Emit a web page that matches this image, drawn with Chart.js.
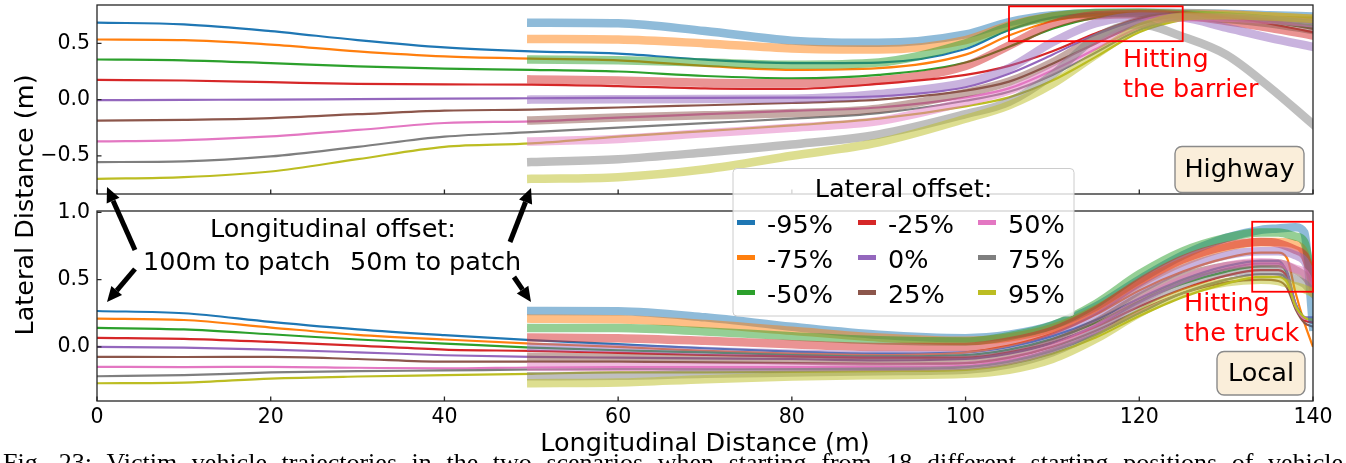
<!DOCTYPE html>
<html>
<head>
<meta charset="utf-8">
<script src="https://cdn.jsdelivr.net/npm/chart.js@4.4.1/dist/chart.umd.min.js"></script>
<style>
  html, body { margin: 0; padding: 0; background: #fff; }
  #wrap { position: relative; width: 1346px; height: 463px; overflow: hidden; }
  #wrap canvas { position: absolute; left: 0; top: 0; }
</style>
</head>
<body>
<div id="wrap">
  <canvas id="local" width="1346" height="463"></canvas>
  <canvas id="highway" width="1346" height="463"></canvas>
</div>
<script>
// lateral offsets of the starting position, tab10 colours
const offsets = ['-95%', '-75%', '-50%', '-25%', '0%', '25%', '50%', '75%', '95%'];
const colors = ['#1f77b4', '#ff7f0e', '#2ca02c', '#d62728', '#9467bd', '#8c564b', '#e377c2', '#7f7f7f', '#bcbd22'];
const xTicks = [0, 20, 40, 60, 80, 100, 120, 140];
const hwYTicks = [-0.5, 0, 0.5];
const locYTicks = [0, 0.5, 1.0];

// Highway, patch 100 m ahead (thin lines)
const hwFarX = [0, 10, 20, 30, 40, 50, 60, 70, 80, 90, 100, 105, 110, 115, 120, 125, 130, 140];
const hwFar = [
  [0.685, 0.67, 0.61, 0.53, 0.465, 0.43, 0.41, 0.355, 0.325, 0.33, 0.45, 0.62, 0.73, 0.765, 0.77, 0.77, 0.75, 0.71],
  [0.535, 0.53, 0.49, 0.43, 0.385, 0.365, 0.35, 0.30, 0.265, 0.28, 0.40, 0.57, 0.70, 0.755, 0.77, 0.765, 0.75, 0.70],
  [0.357, 0.35, 0.325, 0.295, 0.275, 0.265, 0.25, 0.21, 0.19, 0.22, 0.33, 0.47, 0.63, 0.73, 0.76, 0.76, 0.74, 0.66],
  [0.175, 0.17, 0.155, 0.14, 0.135, 0.133, 0.12, 0.10, 0.095, 0.14, 0.22, 0.30, 0.43, 0.59, 0.72, 0.76, 0.74, 0.60],
  [-0.005, -0.002, 0.0, 0.005, 0.009, 0.012, 0.015, 0.015, 0.017, 0.03, 0.11, 0.23, 0.40, 0.58, 0.71, 0.75, 0.74, 0.64],
  [-0.1875, -0.18, -0.164, -0.13, -0.098, -0.089, -0.07, -0.05, -0.03, 0.0, 0.08, 0.16, 0.32, 0.50, 0.67, 0.74, 0.74, 0.63],
  [-0.372, -0.36, -0.327, -0.27, -0.208, -0.194, -0.16, -0.13, -0.10, -0.07, 0.02, 0.10, 0.26, 0.45, 0.64, 0.73, 0.74, 0.69],
  [-0.556, -0.55, -0.506, -0.42, -0.33, -0.29, -0.25, -0.21, -0.17, -0.12, -0.01, 0.07, 0.22, 0.42, 0.62, 0.72, 0.74, 0.68],
  [-0.705, -0.69, -0.64, -0.53, -0.42, -0.39, -0.33, -0.28, -0.23, -0.17, -0.06, 0.02, 0.17, 0.38, 0.60, 0.71, 0.74, 0.73]
];

// Highway, patch 50 m ahead (wide translucent lines)
const hwNearX = [50, 60, 70, 80, 90, 100, 105, 110, 115, 120, 125, 130, 135, 140];
const hwNear = [
  [0.685, 0.68, 0.61, 0.525, 0.505, 0.58, 0.69, 0.75, 0.77, 0.775, 0.77, 0.765, 0.75, 0.74],
  [0.54, 0.535, 0.50, 0.455, 0.445, 0.53, 0.66, 0.74, 0.765, 0.77, 0.765, 0.76, 0.74, 0.72],
  [0.357, 0.35, 0.33, 0.31, 0.33, 0.50, 0.65, 0.74, 0.77, 0.77, 0.76, 0.74, 0.71, 0.67],
  [0.18, 0.17, 0.15, 0.145, 0.17, 0.30, 0.48, 0.67, 0.75, 0.76, 0.75, 0.70, 0.64, 0.57],
  [0.0, 0.003, 0.005, 0.008, 0.05, 0.15, 0.28, 0.51, 0.68, 0.74, 0.73, 0.64, 0.55, 0.47],
  [-0.185, -0.16, -0.14, -0.12, -0.08, 0.06, 0.16, 0.33, 0.55, 0.70, 0.74, 0.72, 0.68, 0.62],
  [-0.372, -0.35, -0.30, -0.25, -0.19, -0.02, 0.08, 0.26, 0.48, 0.67, 0.73, 0.73, 0.71, 0.68],
  [-0.556, -0.53, -0.47, -0.40, -0.31, -0.13, -0.02, 0.22, 0.55, 0.67, 0.56, 0.40, 0.11, -0.22],
  [-0.705, -0.69, -0.62, -0.50, -0.38, -0.17, -0.05, 0.14, 0.40, 0.64, 0.74, 0.75, 0.74, 0.72]
];

// Local road, patch 100 m ahead (thin lines)
const locFarX = [0, 10, 20, 30, 40, 50, 60, 70, 80, 90, 100, 105, 110, 115, 120, 125, 130, 134, 136, 137, 138, 139, 140];
const locFar = [
  [0.267, 0.25, 0.186, 0.13, 0.087, 0.05, 0.02, -0.01, -0.035, -0.05, -0.04, 0.0, 0.08, 0.20, 0.36, 0.50, 0.60, 0.64, 0.64, 0.55, 0.30, 0.20, 0.18],
  [0.21, 0.20, 0.144, 0.09, 0.055, 0.025, 0.0, -0.03, -0.05, -0.06, -0.04, 0.01, 0.10, 0.24, 0.42, 0.56, 0.66, 0.70, 0.70, 0.66, 0.40, 0.18, 0.0],
  [0.141, 0.13, 0.094, 0.055, 0.025, -0.005, -0.025, -0.04, -0.06, -0.07, -0.06, -0.02, 0.06, 0.18, 0.34, 0.47, 0.56, 0.60, 0.60, 0.55, 0.32, 0.22, 0.20],
  [0.067, 0.06, 0.037, 0.01, -0.02, -0.03, -0.045, -0.06, -0.07, -0.08, -0.08, -0.04, 0.03, 0.15, 0.30, 0.43, 0.53, 0.57, 0.57, 0.52, 0.30, 0.20, 0.18],
  [0.0, -0.005, -0.02, -0.04, -0.062, -0.074, -0.08, -0.085, -0.09, -0.10, -0.09, -0.05, 0.03, 0.16, 0.33, 0.48, 0.58, 0.62, 0.62, 0.56, 0.32, 0.22, 0.22],
  [-0.074, -0.075, -0.074, -0.09, -0.11, -0.11, -0.11, -0.115, -0.12, -0.125, -0.12, -0.08, 0.0, 0.12, 0.27, 0.40, 0.48, 0.50, 0.49, 0.44, 0.28, 0.18, 0.15],
  [-0.148, -0.15, -0.148, -0.155, -0.16, -0.153, -0.15, -0.15, -0.15, -0.15, -0.14, -0.10, -0.02, 0.10, 0.26, 0.40, 0.50, 0.54, 0.54, 0.50, 0.30, 0.21, 0.20],
  [-0.218, -0.21, -0.19, -0.18, -0.175, -0.168, -0.165, -0.165, -0.165, -0.165, -0.15, -0.11, -0.03, 0.09, 0.25, 0.40, 0.50, 0.54, 0.54, 0.50, 0.30, 0.22, 0.20],
  [-0.27, -0.265, -0.235, -0.22, -0.21, -0.20, -0.19, -0.19, -0.185, -0.18, -0.17, -0.13, -0.05, 0.07, 0.23, 0.37, 0.47, 0.52, 0.52, 0.48, 0.30, 0.22, 0.20]
];

// Local road, patch 50 m ahead (wide translucent lines)
const locNearX = [50, 60, 70, 80, 90, 100, 105, 110, 115, 120, 125, 130, 134, 136, 138, 139, 140];
const locNear = [
  [0.267, 0.265, 0.22, 0.15, 0.09, 0.065, 0.09, 0.16, 0.30, 0.50, 0.68, 0.81, 0.87, 0.88, 0.89, 0.85, 0.15],
  [0.21, 0.205, 0.17, 0.12, 0.07, 0.045, 0.07, 0.14, 0.28, 0.47, 0.63, 0.74, 0.78, 0.78, 0.76, 0.70, 0.45],
  [0.141, 0.14, 0.115, 0.08, 0.05, 0.04, 0.08, 0.16, 0.32, 0.54, 0.71, 0.81, 0.85, 0.85, 0.82, 0.78, 0.45],
  [0.07, 0.065, 0.045, 0.02, 0.0, 0.0, 0.04, 0.12, 0.27, 0.48, 0.65, 0.75, 0.78, 0.77, 0.72, 0.68, 0.52],
  [0.0, -0.01, -0.03, -0.05, -0.06, -0.06, -0.02, 0.07, 0.22, 0.42, 0.58, 0.68, 0.71, 0.71, 0.68, 0.64, 0.50],
  [-0.074, -0.08, -0.09, -0.10, -0.11, -0.10, -0.06, 0.03, 0.18, 0.37, 0.52, 0.60, 0.62, 0.62, 0.57, 0.53, 0.45],
  [-0.148, -0.15, -0.15, -0.15, -0.15, -0.14, -0.10, -0.01, 0.14, 0.34, 0.50, 0.60, 0.63, 0.62, 0.58, 0.55, 0.42],
  [-0.218, -0.215, -0.20, -0.19, -0.18, -0.17, -0.13, -0.04, 0.11, 0.31, 0.47, 0.55, 0.57, 0.56, 0.50, 0.47, 0.40],
  [-0.27, -0.265, -0.24, -0.22, -0.21, -0.20, -0.17, -0.09, 0.06, 0.25, 0.40, 0.48, 0.50, 0.49, 0.45, 0.43, 0.40]
];

// highlighted regions, in data units
const barrierBox = { x0: 105, x1: 125, y0: 0.52, y1: 0.83 };
const truckBox = { x0: 133, x1: 140, y0: 0.41, y1: 0.93 };

const SANS = '"DejaVu Sans", sans-serif';
const SPINE = '#262626';
const CAPTION = 'Fig. 23: Victim vehicle trajectories in the two scenarios when starting from 18 different starting positions of vehicle';

function rgba(hex, a) {
  const n = parseInt(hex.slice(1), 16);
  return `rgba(${n >> 16},${(n >> 8) & 255},${n & 255},${a})`;
}

function buildSets(farX, far, nearX, near) {
  const sets = [];
  far.forEach((ys, i) => sets.push({
    label: offsets[i] + ' (100m)',
    data: ys.map((y, k) => ({ x: farX[k], y })),
    borderColor: colors[i],
    borderWidth: 2.2,
    order: 30 - i
  }));
  near.forEach((ys, i) => sets.push({
    label: offsets[i] + ' (50m)',
    data: ys.map((y, k) => ({ x: nearX[k], y })),
    borderColor: rgba(colors[i], 0.5),
    borderWidth: 8.5,
    borderCapStyle: 'square',
    order: 10 - i
  }));
  sets.forEach(s => Object.assign(s, {
    pointRadius: 0, fill: false, cubicInterpolationMode: 'monotone', clip: 0, borderJoinStyle: 'round'
  }));
  return sets;
}

const fmt = v => v.toFixed(1).replace('-', '\u2212');

function makeOptions(yMin, yMax, yTicks, padTop, axisH, showX) {
  return {
    responsive: false,
    animation: false,
    devicePixelRatio: 1,
    events: [],
    layout: { padding: { top: padTop, right: 33, left: 0, bottom: 0 } },
    plugins: { legend: { display: false }, tooltip: { enabled: false } },
    scales: {
      x: {
        type: 'linear', min: 0, max: 140,
        afterBuildTicks: s => { s.ticks = xTicks.map(v => ({ value: v })); },
        afterFit: s => { s.height = axisH; s.paddingLeft = 0; s.paddingRight = 0; },
        ticks: { display: showX, color: '#000', padding: 4, maxRotation: 0, font: { family: SANS, size: 20.5 } },
        grid: { display: false, drawTicks: false },
        border: { display: false }
      },
      y: {
        min: yMin, max: yMax,
        afterBuildTicks: s => { s.ticks = yTicks.map(v => ({ value: v })); },
        afterFit: s => { s.width = 97; s.paddingTop = 0; s.paddingBottom = 0; },
        ticks: { color: '#000', padding: 7, callback: fmt, font: { family: SANS, size: 20.5 } },
        grid: { display: false, drawTicks: false },
        border: { display: false }
      }
    }
  };
}

// axes frame with inward tick marks
function drawFrame(chart) {
  const { ctx, chartArea: a, scales: { x, y } } = chart;
  ctx.save();
  ctx.strokeStyle = SPINE;
  ctx.lineWidth = 1.3;
  ctx.beginPath();
  x.ticks.forEach(t => {
    const px = x.getPixelForValue(t.value);
    ctx.moveTo(px, a.bottom); ctx.lineTo(px, a.bottom - 4.5);
  });
  y.ticks.forEach(t => {
    const py = y.getPixelForValue(t.value);
    ctx.moveTo(a.left, py); ctx.lineTo(a.left + 4.5, py);
  });
  ctx.stroke();
  ctx.strokeRect(a.left, a.top, a.right - a.left, a.bottom - a.top);
  ctx.restore();
}

function drawRedBox(chart, b) {
  const { ctx, scales: { x, y } } = chart;
  const l = x.getPixelForValue(b.x0), r = x.getPixelForValue(b.x1);
  const t = y.getPixelForValue(b.y1), btm = y.getPixelForValue(b.y0);
  ctx.save();
  ctx.strokeStyle = '#ff0000';
  ctx.lineWidth = 1.8;
  ctx.strokeRect(l, t, r - l, btm - t);
  ctx.restore();
}

function drawTag(ctx, text, l, t, r, b, baseY) {
  ctx.save();
  ctx.beginPath();
  ctx.roundRect(l, t, r - l, b - t, 7);
  ctx.fillStyle = '#faeeda';
  ctx.fill();
  ctx.strokeStyle = '#8a8a8a';
  ctx.lineWidth = 1.4;
  ctx.stroke();
  ctx.fillStyle = '#000';
  ctx.font = `25.5px ${SANS}`;
  ctx.textAlign = 'center';
  ctx.fillText(text, (l + r) / 2, baseY);
  ctx.restore();
}

function redLabel(ctx, lines, x, y0) {
  ctx.save();
  ctx.fillStyle = '#ff0000';
  ctx.font = `25.5px ${SANS}`;
  ctx.textAlign = 'left';
  lines.forEach((s, i) => ctx.fillText(s, x, y0 + i * 30.6));
  ctx.restore();
}

function arrow(ctx, x0, y0, x1, y1) {
  const ang = Math.atan2(y1 - y0, x1 - x0);
  const headL = 15, headW = 14;
  const bx = x1 - headL * Math.cos(ang), by = y1 - headL * Math.sin(ang);
  ctx.save();
  ctx.strokeStyle = '#000';
  ctx.fillStyle = '#000';
  ctx.lineWidth = 5;
  ctx.beginPath();
  ctx.moveTo(x0, y0); ctx.lineTo(bx, by);
  ctx.stroke();
  ctx.beginPath();
  ctx.moveTo(x1, y1);
  ctx.lineTo(bx + headW / 2 * Math.sin(ang), by - headW / 2 * Math.cos(ang));
  ctx.lineTo(bx - headW / 2 * Math.sin(ang), by + headW / 2 * Math.cos(ang));
  ctx.closePath();
  ctx.fill();
  ctx.restore();
}

function drawLegend(ctx) {
  ctx.save();
  ctx.beginPath();
  ctx.roundRect(733, 168.5, 341, 147.5, 4);
  ctx.fillStyle = 'rgba(255,255,255,0.8)';
  ctx.fill();
  ctx.strokeStyle = '#cccccc';
  ctx.lineWidth = 1;
  ctx.stroke();
  ctx.fillStyle = '#000';
  ctx.font = `25.5px ${SANS}`;
  ctx.textAlign = 'center';
  ctx.fillText('Lateral offset:', 903.5, 197);
  ctx.textAlign = 'left';
  const colX = [737, 858, 978], rowY = [232.5, 267.5, 302.5];
  offsets.forEach((lab, i) => {
    const c = Math.floor(i / 3), r = i % 3;
    ctx.strokeStyle = colors[i];
    ctx.lineWidth = 5;
    ctx.beginPath();
    ctx.moveTo(colX[c], rowY[r] - 10);
    ctx.lineTo(colX[c] + 18, rowY[r] - 10);
    ctx.stroke();
    ctx.fillText(lab, colX[c] + 30, rowY[r]);
  });
  ctx.restore();
}

const localDecor = {
  id: 'localDecor',
  afterDraw(chart) {
    drawFrame(chart);
    drawRedBox(chart, truckBox);
    redLabel(chart.ctx, ['Hitting', 'the truck'], 1184, 310.5);
    drawTag(chart.ctx, 'Local', 1217, 351.5, 1305, 395, 380.5);
  }
};

const highwayDecor = {
  id: 'highwayDecor',
  afterDraw(chart) {
    const ctx = chart.ctx;
    drawFrame(chart);
    drawRedBox(chart, barrierBox);
    redLabel(ctx, ['Hitting', 'the barrier'], 1123, 66.5);
    drawTag(ctx, 'Highway', 1175, 146.5, 1304, 192.5, 176.5);

    // longitudinal offset notes with arrows to the two start points
    ctx.save();
    ctx.fillStyle = '#000';
    ctx.font = `25.5px ${SANS}`;
    ctx.textAlign = 'left';
    ctx.fillText('Longitudinal offset:', 210, 237);
    ctx.fillText('100m to patch', 143, 270);
    ctx.fillText('50m to patch', 350, 270);
    ctx.restore();
    arrow(ctx, 135, 250, 107, 187);
    arrow(ctx, 135, 269, 107, 302);
    arrow(ctx, 510, 242, 531, 188);
    arrow(ctx, 514, 277, 531, 302);

    drawLegend(ctx);

    // shared axis titles
    ctx.save();
    ctx.fillStyle = '#000';
    ctx.font = `25.5px ${SANS}`;
    ctx.textAlign = 'center';
    ctx.fillText('Longitudinal Distance (m)', 705, 451);
    ctx.translate(33, 205);
    ctx.rotate(-Math.PI / 2);
    ctx.fillText('Lateral Distance (m)', 0, 0);
    ctx.restore();

    // figure caption, justified to the page width; runs off the bottom edge
    ctx.save();
    ctx.fillStyle = '#000';
    ctx.font = '26px "Liberation Serif", serif';
    ctx.textAlign = 'left';
    const gaps = CAPTION.split(' ').length - 1;
    const spare = 1340 - ctx.measureText(CAPTION).width;
    if (spare > 0) ctx.wordSpacing = (spare / gaps) + 'px';
    ctx.fillText(CAPTION, 3, 471);
    ctx.restore();
  }
};

new Chart(document.getElementById('local'), {
  type: 'line',
  data: { datasets: buildSets(locFarX, locFar, locNearX, locNear) },
  options: makeOptions(-0.402, 1.01, locYTicks, 211, 62, true),
  plugins: [localDecor]
});

new Chart(document.getElementById('highway'), {
  type: 'line',
  data: { datasets: buildSets(hwFarX, hwFar, hwNearX, hwNear) },
  options: makeOptions(-0.84, 0.842, hwYTicks, 5, 269, false),
  plugins: [highwayDecor]
});
</script>
</body>
</html>
